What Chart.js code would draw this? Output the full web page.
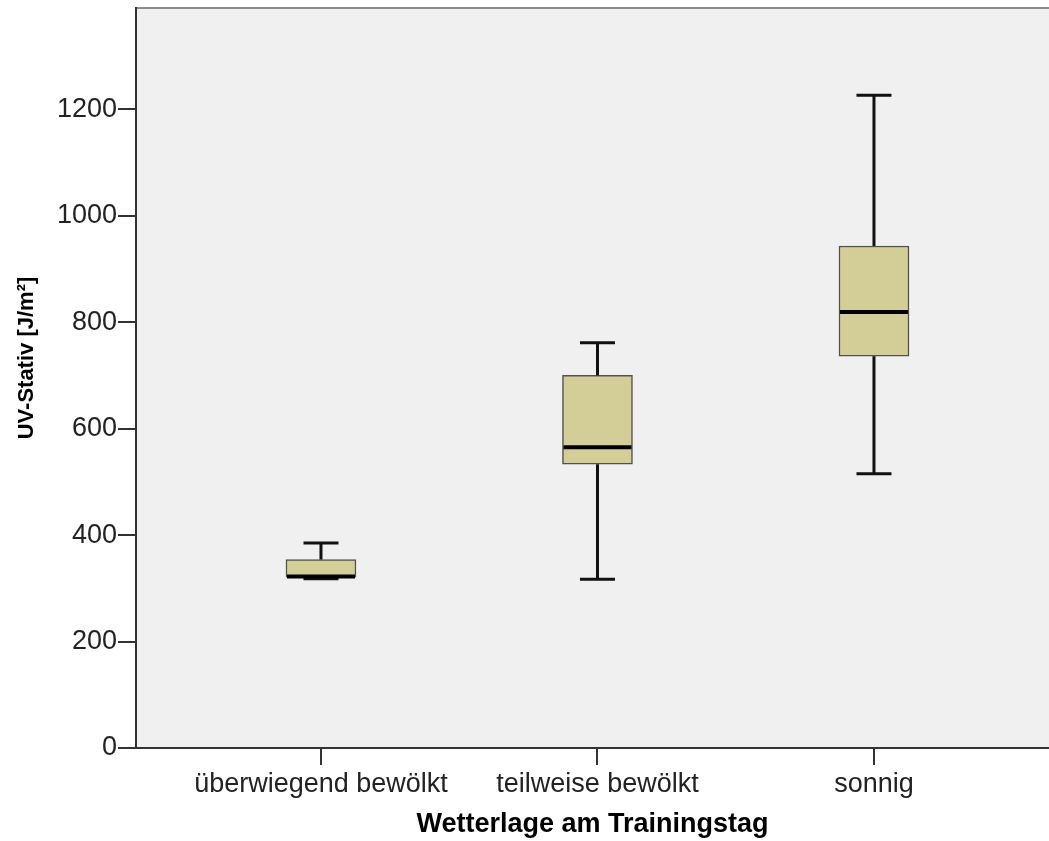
<!DOCTYPE html>
<html>
<head>
<meta charset="utf-8">
<script src="https://cdn.jsdelivr.net/npm/chart.js@4.4.0/dist/chart.umd.min.js"></script>
<style>
  html, body { margin: 0; padding: 0; background: #fff; }
  #wrap { width: 1049px; height: 841px; }
</style>
</head>
<body>
<div id="wrap"><canvas id="boxplot" width="1049" height="841"></canvas></div>
<script>
const categories = ["überwiegend bewölkt", "teilweise bewölkt", "sonnig"];
const minima  = [318, 317, 515];
const quart1  = [321, 533, 736];
const medians = [322, 565, 819];
const quart3  = [354, 700, 943];
const maxima  = [385, 761, 1226];
const yTicks  = [0, 200, 400, 600, 800, 1000, 1200];
const yTitle  = 'UV-Stativ [J/m²]';

const FONT = "'Liberation Sans', Arial, sans-serif";

// Hintergrund, obere Linie, Whisker, Median und Y-Titel
const boxPlugin = {
  id: 'boxplot',
  beforeDraw(chart) {
    const { ctx, chartArea: a } = chart;
    ctx.save();
    ctx.fillStyle = '#f0f0f0';
    ctx.fillRect(a.left, a.top, a.right - a.left, a.bottom - a.top);
    ctx.strokeStyle = '#8a8a8a';
    ctx.lineWidth = 2;
    ctx.beginPath();
    ctx.moveTo(a.left, a.top);
    ctx.lineTo(a.right, a.top);
    ctx.stroke();
    ctx.restore();
  },
  afterDatasetsDraw(chart) {
    const { ctx, scales: { x, y } } = chart;
    const line = (x1, y1, x2, y2) => {
      ctx.beginPath(); ctx.moveTo(x1, y1); ctx.lineTo(x2, y2); ctx.stroke();
    };
    ctx.save();
    ctx.strokeStyle = '#111';
    ctx.lineCap = 'butt';
    categories.forEach((c, i) => {
      const cx = x.getPixelForValue(i + 1);
      ctx.lineWidth = 3;
      line(cx, y.getPixelForValue(quart3[i]), cx, y.getPixelForValue(maxima[i]));
      line(cx, y.getPixelForValue(minima[i]), cx, y.getPixelForValue(quart1[i]));
      line(cx - 17.5, y.getPixelForValue(maxima[i]), cx + 17.5, y.getPixelForValue(maxima[i]));
      line(cx - 17.5, y.getPixelForValue(minima[i]), cx + 17.5, y.getPixelForValue(minima[i]));
      ctx.lineWidth = 4;
      ctx.strokeStyle = '#000';
      line(cx - 34, y.getPixelForValue(medians[i]), cx + 34, y.getPixelForValue(medians[i]));
      ctx.strokeStyle = '#111';
    });
    ctx.restore();
  },
  afterDraw(chart) {
    // SPSS setzt den Y-Titel etwas oberhalb der Mitte
    const { ctx, chartArea: a } = chart;
    ctx.save();
    ctx.translate(27, (a.top + a.bottom) / 2 - 20);
    ctx.rotate(-Math.PI / 2);
    ctx.font = "bold 22px " + FONT;
    ctx.fillStyle = '#000';
    ctx.textAlign = 'center';
    ctx.textBaseline = 'middle';
    ctx.fillText(yTitle, 0, 0);
    ctx.restore();
  }
};

new Chart(document.getElementById('boxplot'), {
  type: 'bar',
  data: {
    datasets: [{
      data: categories.map((c, i) => ({ x: i + 1, y: [quart1[i], quart3[i]] })),
      backgroundColor: '#d3ce97',
      borderColor: '#505050',
      borderWidth: 1.5,
      borderSkipped: false,
      barThickness: 70
    }]
  },
  options: {
    responsive: false,
    animation: false,
    devicePixelRatio: 1,
    layout: { padding: { top: 8, right: 0, left: 0, bottom: 0 } },
    plugins: { legend: { display: false }, tooltip: { enabled: false } },
    scales: {
      x: {
        type: 'linear',
        min: 0.331,
        max: 3.633,
        offset: false,
        afterBuildTicks: s => { s.ticks = categories.map((c, i) => ({ value: i + 1 })); },
        afterFit: s => { s.height = 93; s.paddingLeft = 0; s.paddingRight = 0; },
        ticks: {
          callback: v => categories[v - 1],
          autoSkip: false,
          maxRotation: 0,
          padding: 3,
          color: '#222',
          font: { family: FONT, size: 27 }
        },
        grid: { offset: false, drawOnChartArea: false, drawTicks: true, tickLength: 17, color: '#333', lineWidth: 2 },
        border: { color: '#333', width: 2 },
        title: {
          display: true,
          text: 'Wetterlage am Trainingstag',
          color: '#000',
          padding: { top: 0, bottom: 0 },
          font: { family: FONT, size: 27, weight: 'bold' }
        }
      },
      y: {
        type: 'linear',
        min: 0,
        max: 1390,
        afterBuildTicks: s => { s.ticks = yTicks.map(v => ({ value: v })); },
        afterFit: s => { s.width = 136; s.paddingTop = 0; s.paddingBottom = 0; },
        ticks: {
          callback: v => String(v),
          padding: 1,
          color: '#222',
          font: { family: FONT, size: 27 }
        },
        grid: { drawOnChartArea: false, drawTicks: true, tickLength: 18, color: '#333', lineWidth: 2 },
        border: { color: '#333', width: 2 }
      }
    }
  },
  plugins: [boxPlugin]
});
</script>
</body>
</html>
